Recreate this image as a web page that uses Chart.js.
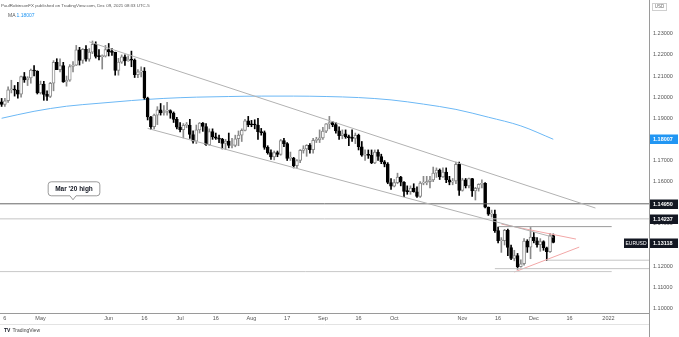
<!DOCTYPE html>
<html><head><meta charset="utf-8">
<script src="https://cdn.jsdelivr.net/npm/chart.js@4/dist/chart.umd.min.js"></script>
<style>html,body{margin:0;padding:0;background:#fff;}#wrap{width:679px;height:337px;position:relative;}</style>
</head><body><div id="wrap"><canvas id="c" width="679" height="337"></canvas></div>
<script>
// ---- categories: daily trading sessions (weekdays) from 2021-04-15, incl. future empty space ----
const firstSession = '2021-04-15';
const sessionCount = 200;
const dates = [];
(function(){ let d = new Date(firstSession + 'T00:00:00Z');
  while (dates.length < sessionCount) { const wd = d.getUTCDay(); if (wd !== 0 && wd !== 6) dates.push(d.toISOString().slice(0,10)); d.setUTCDate(d.getUTCDate()+1); } })();

// ---- EURUSD daily OHLC (Apr 15 – Dec 9, 2021) ----
const open = [1.1978,1.1965,1.1983,1.2035,1.2036,1.2033,1.2014,1.2097,1.2082,1.2091,
1.2128,1.2124,1.2020,1.2062,1.2013,1.2004,1.2066,1.2165,1.2130,1.2149,
1.2072,1.2080,1.2145,1.2152,1.2224,1.2174,1.2226,1.2180,1.2213,1.2250,
1.2193,1.2192,1.2194,1.2225,1.2214,1.2212,1.2127,1.2166,1.2191,1.2172,
1.2178,1.2175,1.2107,1.2120,1.2124,1.1996,1.1906,1.1860,1.1915,1.1940,
1.1925,1.1934,1.1937,1.1924,1.1895,1.1858,1.1846,1.1866,1.1866,1.1823,
1.1791,1.1845,1.1877,1.1861,1.1775,1.1837,1.1812,1.1806,1.1801,1.1781,
1.1792,1.1771,1.1771,1.1803,1.1820,1.1843,1.1888,1.1870,1.1869,1.1868,
1.1836,1.1832,1.1762,1.1737,1.1717,1.1738,1.1729,1.1794,1.1780,1.1710,
1.1711,1.1675,1.1700,1.1748,1.1755,1.1772,1.1751,1.1795,1.1797,1.1807,
1.1839,1.1874,1.1880,1.1870,1.1840,1.1818,1.1826,1.1812,1.1808,1.1805,
1.1819,1.1765,1.1725,1.1726,1.1724,1.1689,1.1740,1.1719,1.1694,1.1683,
1.1596,1.1578,1.1595,1.1622,1.1597,1.1554,1.1553,1.1570,1.1552,1.1530,
1.1593,1.1594,1.1600,1.1608,1.1640,1.1655,1.1622,1.1645,1.1609,1.1597,
1.1603,1.1682,1.1558,1.1608,1.1580,1.1614,1.1556,1.1568,1.1587,1.1592,
1.1479,1.1446,1.1446,1.1368,1.1320,1.1320,1.1370,1.1288,1.1236,1.1250,
1.1197,1.1211,1.1318,1.1290,1.1338,1.1320,1.1302,1.1316,1.1287,1.1268,
1.1345];
const high = [1.1994,1.1994,1.2049,1.2080,1.2055,1.2070,1.2100,1.2117,1.2097,1.2133,
1.2150,1.2125,1.2076,1.2075,1.2030,1.2070,1.2173,1.2182,1.2181,1.2165,
1.2100,1.2154,1.2168,1.2245,1.2236,1.2230,1.2244,1.2230,1.2266,1.2262,
1.2225,1.2200,1.2245,1.2254,1.2230,1.2213,1.2184,1.2200,1.2200,1.2196,
1.2218,1.2181,1.2130,1.2144,1.2140,1.2000,1.1909,1.1920,1.1955,1.1970,
1.1960,1.1975,1.1940,1.1930,1.1905,1.1880,1.1875,1.1880,1.1895,1.1840,
1.1868,1.1880,1.1880,1.1875,1.1850,1.1850,1.1830,1.1820,1.1805,1.1800,
1.1830,1.1805,1.1820,1.1840,1.1850,1.1895,1.1909,1.1890,1.1893,1.1900,
1.1852,1.1840,1.1770,1.1750,1.1745,1.1745,1.1800,1.1805,1.1785,1.1740,
1.1715,1.1705,1.1752,1.1770,1.1775,1.1780,1.1805,1.1810,1.1845,1.1857,
1.1875,1.1909,1.1885,1.1880,1.1860,1.1845,1.1845,1.1820,1.1845,1.1830,
1.1825,1.1790,1.1750,1.1750,1.1750,1.1750,1.1750,1.1730,1.1700,1.1690,
1.1615,1.1610,1.1640,1.1625,1.1600,1.1580,1.1580,1.1590,1.1575,1.1600,
1.1625,1.1625,1.1625,1.1669,1.1665,1.1660,1.1665,1.1665,1.1625,1.1615,
1.1692,1.1692,1.1616,1.1615,1.1617,1.1616,1.1573,1.1590,1.1608,1.1595,
1.1480,1.1465,1.1465,1.1385,1.1335,1.1374,1.1375,1.1300,1.1275,1.1260,
1.1230,1.1330,1.1325,1.1383,1.1360,1.1335,1.1330,1.1320,1.1290,1.1355,
1.1352];
const low = [1.1956,1.1956,1.1975,1.2020,1.2005,1.1995,1.2000,1.2070,1.2055,1.2066,
1.2100,1.2015,1.2015,1.1985,1.1985,1.1998,1.2030,1.2130,1.2120,1.2070,
1.2052,1.2075,1.2120,1.2150,1.2152,1.2160,1.2170,1.2170,1.2206,1.2185,
1.2176,1.2133,1.2190,1.2195,1.2198,1.2104,1.2104,1.2160,1.2150,1.2170,
1.2144,1.2093,1.2092,1.2096,1.1990,1.1892,1.1847,1.1850,1.1870,1.1915,
1.1915,1.1915,1.1900,1.1880,1.1850,1.1835,1.1807,1.1855,1.1805,1.1782,
1.1780,1.1830,1.1838,1.1772,1.1772,1.1800,1.1800,1.1785,1.1755,1.1752,
1.1760,1.1760,1.1765,1.1770,1.1790,1.1840,1.1860,1.1860,1.1850,1.1800,
1.1820,1.1753,1.1730,1.1705,1.1703,1.1718,1.1725,1.1765,1.1700,1.1700,
1.1665,1.1664,1.1690,1.1735,1.1720,1.1735,1.1735,1.1785,1.1785,1.1800,
1.1832,1.1850,1.1860,1.1830,1.1800,1.1803,1.1805,1.1770,1.1790,1.1780,
1.1750,1.1720,1.1700,1.1710,1.1685,1.1685,1.1700,1.1685,1.1670,1.1590,
1.1563,1.1575,1.1590,1.1580,1.1529,1.1540,1.1540,1.1550,1.1525,1.1525,
1.1585,1.1585,1.1570,1.1600,1.1620,1.1610,1.1620,1.1595,1.1585,1.1585,
1.1590,1.1535,1.1555,1.1570,1.1570,1.1530,1.1513,1.1555,1.1570,1.1475,
1.1440,1.1432,1.1360,1.1310,1.1265,1.1300,1.1250,1.1230,1.1225,1.1186,
1.1195,1.1205,1.1265,1.1235,1.1310,1.1290,1.1270,1.1275,1.1227,1.1265,
1.1310];
const close = [1.1965,1.1983,1.2035,1.2036,1.2033,1.2014,1.2097,1.2082,1.2091,1.2128,
1.2124,1.2020,1.2062,1.2013,1.2004,1.2066,1.2165,1.2130,1.2149,1.2072,
1.2080,1.2145,1.2152,1.2224,1.2174,1.2226,1.2180,1.2213,1.2250,1.2193,
1.2192,1.2194,1.2225,1.2214,1.2212,1.2127,1.2166,1.2191,1.2172,1.2178,
1.2175,1.2107,1.2120,1.2124,1.1996,1.1906,1.1860,1.1915,1.1940,1.1925,
1.1934,1.1937,1.1924,1.1895,1.1858,1.1846,1.1866,1.1866,1.1823,1.1791,
1.1845,1.1877,1.1861,1.1775,1.1837,1.1812,1.1806,1.1801,1.1781,1.1792,
1.1771,1.1771,1.1803,1.1820,1.1843,1.1888,1.1870,1.1869,1.1868,1.1836,
1.1832,1.1762,1.1737,1.1717,1.1738,1.1729,1.1794,1.1780,1.1710,1.1711,
1.1675,1.1700,1.1748,1.1755,1.1772,1.1751,1.1795,1.1797,1.1807,1.1839,
1.1874,1.1880,1.1870,1.1840,1.1818,1.1826,1.1812,1.1808,1.1805,1.1819,
1.1765,1.1725,1.1726,1.1724,1.1689,1.1740,1.1719,1.1694,1.1683,1.1596,
1.1578,1.1595,1.1622,1.1597,1.1554,1.1553,1.1570,1.1552,1.1530,1.1593,
1.1594,1.1600,1.1608,1.1640,1.1655,1.1622,1.1645,1.1609,1.1597,1.1603,
1.1682,1.1558,1.1608,1.1580,1.1614,1.1556,1.1568,1.1587,1.1592,1.1479,
1.1446,1.1446,1.1368,1.1320,1.1320,1.1370,1.1288,1.1236,1.1250,1.1197,
1.1211,1.1318,1.1290,1.1338,1.1320,1.1302,1.1316,1.1287,1.1268,1.1345,
1.1312];

// ---- moving average (read at sample sessions) ----
const maDates  = ['2021-04-15','2021-04-29','2021-05-13','2021-05-27','2021-06-10','2021-06-24','2021-07-08','2021-07-22','2021-08-05','2021-08-19','2021-09-02','2021-09-16','2021-09-30','2021-10-14','2021-10-28','2021-11-11','2021-11-25','2021-12-09'];
const maValues = [1.1900,1.1933,1.1957,1.1971,1.1984,1.1994,1.2000,1.2003,1.2005,1.2005,1.2003,1.1998,1.1987,1.1967,1.1942,1.1905,1.1864,1.18007];

// ---- drawn lines (date, price); null date = chart edge ----
const drawnLines = [
  {name:'upperChannel', from:['2021-05-24',1.2262], to:['2021-12-28',1.1475]},
  {name:'lowerChannel', from:['2021-06-17',1.1852], to:['2021-12-09',1.1337]},
  {name:'mar20High',    from:[null,1.1495],         to:[null,1.1495]},
  {name:'level14237',   from:[null,1.14237],        to:[null,1.14237]},
  {name:'level1387',    from:['2021-11-16',1.1387], to:['2022-01-04',1.1387]},
  {name:'level1228',    from:['2021-12-07',1.1228], to:[null,1.1228]},
  {name:'level1188',    from:['2021-11-15',1.1188], to:[null,1.1188]},
  {name:'level1174',    from:[null,1.1174],         to:['2022-01-04',1.1174]},
  {name:'triUpper',     from:['2021-11-17',1.1399], to:['2021-12-20',1.1328]},
  {name:'triLower',     from:['2021-11-23',1.1172], to:['2021-12-21',1.1290]}
];
const lineStyles = {
  upperChannel:'#b2b2b2', lowerChannel:'#b2b2b2', mar20High:'#666666', level14237:'#c4c4c4',
  level1387:'#9a9a9a', level1228:'#c4c4c4', level1188:'#c4c4c4', level1174:'#c8c8c8',
  triUpper:'#f2a7a7', triLower:'#f2a7a7'
};

// ---- tick labels ----
const xTickDates = ['2021-04-16','2021-05-03','2021-06-01','2021-06-16','2021-07-01','2021-07-16','2021-08-02','2021-08-17','2021-09-01','2021-09-16','2021-10-01','2021-11-01','2021-11-16','2021-12-01','2021-12-16','2022-01-03'];
const xTickTexts = ['6','May','Jun','16','Jul','16','Aug','17','Sep','16','Oct','Nov','16','Dec','16','2022'];
const yTicks = [1.10,1.11,1.12,1.14,1.16,1.17,1.19,1.20,1.21,1.22,1.23];

// ---- price tags on the axis ----
const priceTags = [
  {value:1.18007, text:'1.18007', bg:'#2196f3'},
  {value:1.14950, text:'1.14950', bg:'#131722'},
  {value:1.14237, text:'1.14237', bg:'#131722'},
  {value:1.13118, text:'1.13118', bg:'#131722', symbol:'EURUSD'}
];
const callout = {text:"Mar '20 high", date:'2021-05-17', price:1.1495};

const FONT = '"Liberation Sans", Arial, sans-serif';
const idx = d => dates.indexOf(d);
const xTickIdx = xTickDates.map(idx);

const wickData = close.map((c,i)=>({x:i, y:[low[i], high[i]]}));
const bodyData = close.map((c,i)=>({x:i, y:[open[i], c]}));
const isUp = i => close[i] >= open[i];

const lineDatasets = drawnLines.map(l => ({
  type:'line', order:1,
  data:[{x: l.from[0]===null ? -1 : idx(l.from[0]), y:l.from[1]}, {x: l.to[0]===null ? sessionCount : idx(l.to[0]), y:l.to[1]}],
  borderColor: lineStyles[l.name], borderWidth:1, pointRadius:0, fill:false, tension:0
}));

const overlay = {
  id:'overlay',
  afterDraw(chart){
    const ctx = chart.ctx, ys = chart.scales.y, xs = chart.scales.x, ca = chart.chartArea;
    ctx.save();
    // header
    ctx.textBaseline = 'middle';
    ctx.font = '4.4px ' + FONT; ctx.fillStyle = '#555'; ctx.textAlign = 'left';
    ctx.fillText('PaulRobinsonFX published on TradingView.com, Dec 09, 2021 08:33 UTC-5', 1, 6);
    ctx.font = '5px ' + FONT; ctx.fillStyle = '#555';
    ctx.fillText('MA', 8, 15.5);
    ctx.fillStyle = '#2196f3';
    ctx.fillText(maValues[maValues.length-1].toFixed(5), 16.5, 15.5);

    // callout
    const ax = xs.getPixelForValue(idx(callout.date)), ay = ys.getPixelForValue(callout.price);
    ctx.font = 'bold 6.5px ' + FONT;
    const tw = ctx.measureText(callout.text).width;
    const bw = tw + 14, bh = 14, bx = ax - bw/2 + 1, by = ay - 8 - bh;
    ctx.beginPath();
    const r = 3;
    ctx.moveTo(bx + r, by); ctx.lineTo(bx + bw - r, by); ctx.arcTo(bx+bw, by, bx+bw, by+r, r);
    ctx.lineTo(bx+bw, by+bh-r); ctx.arcTo(bx+bw, by+bh, bx+bw-r, by+bh, r);
    ctx.lineTo(ax+3, by+bh); ctx.lineTo(ax, by+bh+4); ctx.lineTo(ax-3, by+bh);
    ctx.lineTo(bx+r, by+bh); ctx.arcTo(bx, by+bh, bx, by+bh-r, r);
    ctx.lineTo(bx, by+r); ctx.arcTo(bx, by, bx+r, by, r); ctx.closePath();
    ctx.fillStyle = '#fff'; ctx.fill(); ctx.strokeStyle = '#9a9a9a'; ctx.lineWidth = 1; ctx.stroke();
    ctx.fillStyle = '#131722'; ctx.textAlign = 'center';
    ctx.fillText(callout.text, bx + bw/2, by + bh/2 + 0.5);

    // price tags
    priceTags.forEach(t => {
      const py = Math.round(ys.getPixelForValue(t.value));
      ctx.font = 'bold 5.5px ' + FONT;
      ctx.fillStyle = t.bg; ctx.fillRect(ca.right + 1, py - 4.5, 28, 9.5);
      ctx.fillStyle = '#fff'; ctx.textAlign = 'left';
      ctx.fillText(t.text, ca.right + 4, py + 0.5);
      if (t.symbol) {
        ctx.font = '5px ' + FONT;
        ctx.fillStyle = t.bg; ctx.fillRect(ca.right - 25, py - 4.5, 24, 9.5);
        ctx.fillStyle = '#fff'; ctx.textAlign = 'center';
        ctx.fillText(t.symbol, ca.right - 13, py + 0.5);
      }
    });
    // currency box
    ctx.font = '4.5px ' + FONT; ctx.strokeStyle = '#cfcfcf'; ctx.fillStyle = '#fff';
    ctx.fillRect(ca.right + 3.5, 3.5, 14, 7); ctx.strokeRect(ca.right + 3.5, 3.5, 14, 7);
    ctx.fillStyle = '#666'; ctx.textAlign = 'center'; ctx.fillText('USD', ca.right + 10.5, 7.2);

    // axis extension and footer
    ctx.strokeStyle = '#9a9a9a'; ctx.lineWidth = 1;
    ctx.beginPath(); ctx.moveTo(ca.right + 0.5, ca.bottom); ctx.lineTo(ca.right + 0.5, 337); ctx.stroke();
    ctx.strokeStyle = '#e3e3e3';
    ctx.beginPath(); ctx.moveTo(0, 324.5); ctx.lineTo(ca.right, 324.5); ctx.stroke();
    ctx.textAlign = 'left'; ctx.fillStyle = '#131722';
    ctx.font = 'bold 5px ' + FONT; ctx.fillText('TV', 4, 330.5);
    ctx.font = '5px ' + FONT; ctx.fillStyle = '#444'; ctx.fillText('TradingView', 12.5, 330.5);
    ctx.restore();
  }
};

new Chart(document.getElementById('c'), {
  type:'bar',
  data:{ datasets:[
    ...lineDatasets,
    {type:'line', order:6, data: maDates.map((d,i)=>({x:idx(d), y:maValues[i]})), borderColor:'#6cb8f5', borderWidth:1, pointRadius:0, cubicInterpolationMode:'monotone', fill:false},
    {type:'bar', order:5, data: wickData, grouped:false, barThickness:1, borderWidth:0,
      backgroundColor: c => isUp(c.dataIndex) ? '#8a8a8a' : '#000'},
    {type:'bar', order:4, data: bodyData, grouped:false, barThickness:3, borderWidth:1, borderSkipped:false, minBarLength:1,
      backgroundColor: c => isUp(c.dataIndex) ? '#ffffff' : '#000',
      borderColor: c => isUp(c.dataIndex) ? '#8a8a8a' : '#000'}
  ]},
  options:{
    responsive:false, animation:false, devicePixelRatio:1,
    layout:{padding:{left:0,right:0,top:0,bottom:13}},
    plugins:{legend:{display:false}, tooltip:{enabled:false}},
    scales:{
      x:{type:'linear', min:-0.5, max:sessionCount-0.5, offset:false,
        grid:{display:false, drawTicks:false}, border:{display:true, color:'#9a9a9a'},
        ticks:{font:{size:5.5, family:FONT}, color:'#555', padding:2, autoSkip:false, maxRotation:0,
          callback:(v)=>{ const k = xTickIdx.indexOf(v); return k>=0 ? xTickTexts[k] : ''; }},
        afterBuildTicks:s=>{ s.ticks = xTickIdx.map(v=>({value:v})); },
        afterFit:s=>{ s.height = 11; s.paddingLeft = 0; s.paddingRight = 0; }
      },
      y:{type:'linear', position:'right', min:1.0978, max:1.2460,
        grid:{display:false, drawTicks:false}, border:{display:true, color:'#9a9a9a'},
        ticks:{font:{size:5.5, family:FONT}, color:'#555', padding:4, callback:v=>Number(v).toFixed(5)},
        afterBuildTicks:s=>{ s.ticks = yTicks.map(v=>({value:v})); },
        afterFit:s=>{ s.width = 30; s.paddingTop = 0; s.paddingBottom = 0; }
      }
    }
  },
  plugins:[overlay]
});
</script></body></html>
